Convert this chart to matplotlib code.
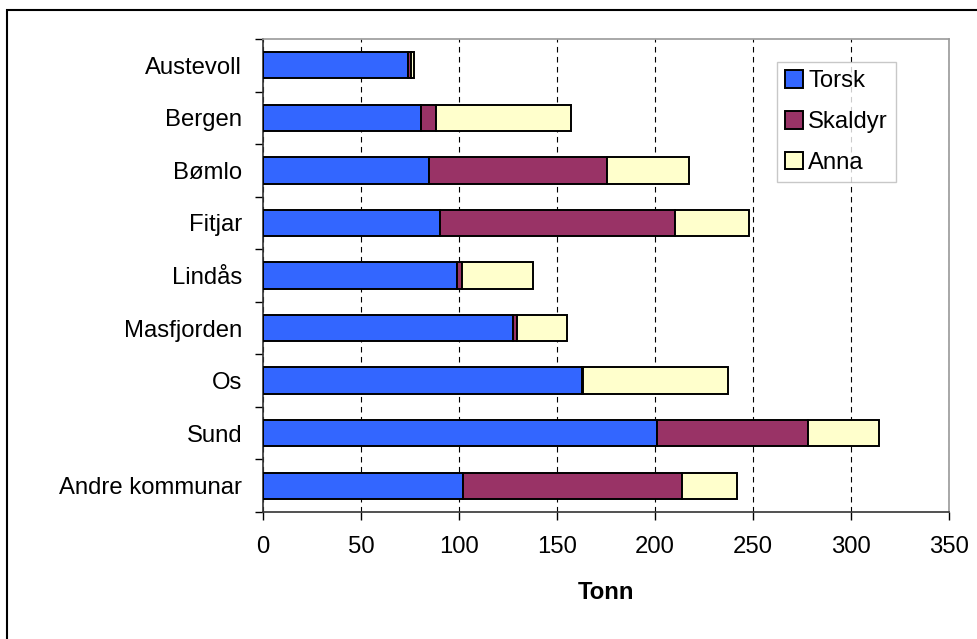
import numpy as np
import matplotlib
matplotlib.use("Agg")
import matplotlib.pyplot as plt
from matplotlib.patches import Rectangle

# Data

KOMMUNAR = [
    "Austevoll",
    "Bergen",
    "Bømlo",
    "Fitjar",
    "Lindås",
    "Masfjorden",
    "Os",
    "Sund",
    "Andre kommunar",
]
TORSK = [74, 80.5, 84.5, 90.5, 99, 127.5, 162.5, 201, 102]
SKALDYR = [1.5, 8, 91, 119.5, 2.5, 2, 1, 77, 112]
ANNA = [1.5, 68.5, 42, 38, 36, 25.5, 73.5, 36.5, 28]

SERIES_NAMES = ["Torsk", "Skaldyr", "Anna"]
SERIES_COLOURS = ["#3366FF", "#993366", "#FFFFCC"]
X_TICKS = [0, 50, 100, 150, 200, 250, 300, 350]

# Figure

plt.rcParams["font.family"] = ["Liberation Sans", "DejaVu Sans"]
plt.rcParams["font.size"] = 17.2

W, H = 978, 639
fig = plt.figure(figsize=(W / 100, H / 100), dpi=100)
ax = fig.add_axes([263 / W, 1 - 512 / H, (949 - 263) / W, (512 - 39) / H])

positions = np.arange(len(KOMMUNAR))
left = np.zeros(len(KOMMUNAR))
for name, values, colour in zip(SERIES_NAMES, [TORSK, SKALDYR, ANNA], SERIES_COLOURS):
    ax.barh(
        positions,
        values,
        left=left,
        height=0.5,
        color=colour,
        edgecolor="black",
        linewidth=1.4,
        label=name,
        zorder=3,
    )
    left = left + np.array(values)

ax.set_xlim(0, 350)
ax.set_ylim(len(KOMMUNAR) - 0.5, -0.5)
ax.set_xticks(X_TICKS)
ax.set_yticks(positions)
ax.set_yticklabels(KOMMUNAR)
ax.set_yticks(np.arange(len(KOMMUNAR) + 1) - 0.5, minor=True)

ax.tick_params(axis="y", which="major", length=0, pad=15)
ax.tick_params(axis="y", which="minor", length=6, width=1, direction="out")
ax.tick_params(axis="x", length=6, width=1, direction="out", pad=11)

ax.grid(axis="x", color="black", linestyle=(0, (5, 4)), linewidth=0.8, zorder=1)

for side in ["top", "right"]:
    ax.spines[side].set_color("#9a9a9a")
    ax.spines[side].set_linewidth(1.2)
for side in ["left", "bottom"]:
    ax.spines[side].set_color("#333333")
    ax.spines[side].set_linewidth(1.2)

ax.set_xlabel("Tonn", fontweight="bold", labelpad=17)

legend = ax.legend(
    loc="upper left",
    bbox_to_anchor=(777 / W, 1 - 62 / H),
    bbox_transform=fig.transFigure,
    fancybox=False,
    frameon=True,
    edgecolor="#bbbbbb",
    handlelength=0.75,
    handleheight=0.75,
    handletextpad=0.2,
    labelspacing=0.78,
    borderpad=0.35,
    borderaxespad=0,
)
legend.get_frame().set_linewidth(1)

# outer chart border (only top and left are inside the picture)
fig.patches.append(
    Rectangle(
        (7.5 / W, -0.05),
        1.2,
        1.05 - 10 / H,
        transform=fig.transFigure,
        fill=False,
        edgecolor="black",
        linewidth=1.5,
    )
)

fig.savefig("out.png", dpi=100)
